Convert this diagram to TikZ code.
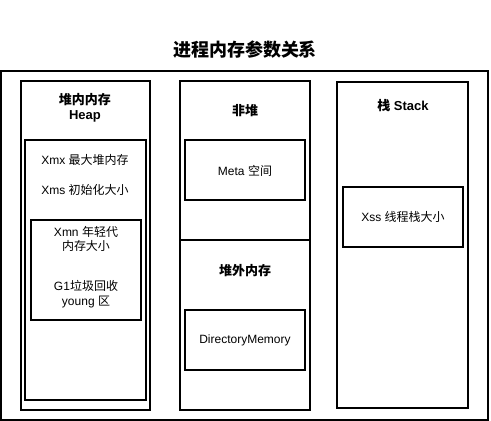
\documentclass[tikz,border=0pt]{standalone}
\usepackage{fontspec}
\setmainfont{Liberation Sans}
\newfontfamily\cjk{Noto Sans CJK SC}
\begin{document}
\begin{tikzpicture}[x=1pt,y=-1pt,
  box/.style={draw=black,line width=1.2pt},
  txt/.style={font=\fontsize{12}{14.5}\selectfont,align=center,inner sep=0pt},
  btxt/.style={font=\fontsize{13}{15}\selectfont\bfseries,align=center,inner sep=0pt}]
\useasboundingbox (0,0) rectangle (491,421);
\node[font=\fontsize{18}{20}\selectfont\bfseries,inner sep=0pt] (title) at (245,50) {\cjk 进程内存参数关系};
\draw[box] (1,71) rectangle (488,420);
% heap
\draw[box] (21,81) coordinate (heapTL) rectangle (150,410) coordinate (heapBR);
\node[btxt] (heapLbl) at (85,108) {{\cjk 堆内内存}\\Heap};
\draw[box] (25,140) rectangle (146,400);
\node[txt] (xmx) at (85,160) {Xmx {\cjk 最大堆内存}};
\node[txt] (xms) at (85,190) {Xms {\cjk 初始化大小}};
\draw[box] (31,220) rectangle (141,320);
\node[txt] (xmn) at (86,239) {Xmn {\cjk 年轻代}\\{\cjk 内存大小}};
\node[txt] (g1) at (86,294) {G1{\cjk 垃圾回收}\\young {\cjk 区}};
% non-heap
\draw[box] (180,81) rectangle (310,410);
\draw[box] (180,240) -- (310,240);
\node[btxt] (nonheap) at (245,111) {\cjk 非堆};
\draw[box] (185,140) rectangle (305,200);
\node[txt] (meta) at (245,171) {Meta {\cjk 空间}};
\node[btxt] (offheap) at (245,271) {\cjk 堆外内存};
\draw[box] (185,310) rectangle (305,370);
\node[txt] (dm) at (245,340) {DirectoryMemory};
% stack
\draw[box] (337,82) rectangle (468,408);
\node[btxt] (stack) at (403,106) {{\cjk 栈} Stack};
\draw[box] (343,187) rectangle (463,247);
\node[txt] (xss) at (403,217) {Xss {\cjk 线程栈大小}};
\end{tikzpicture}
\end{document}
